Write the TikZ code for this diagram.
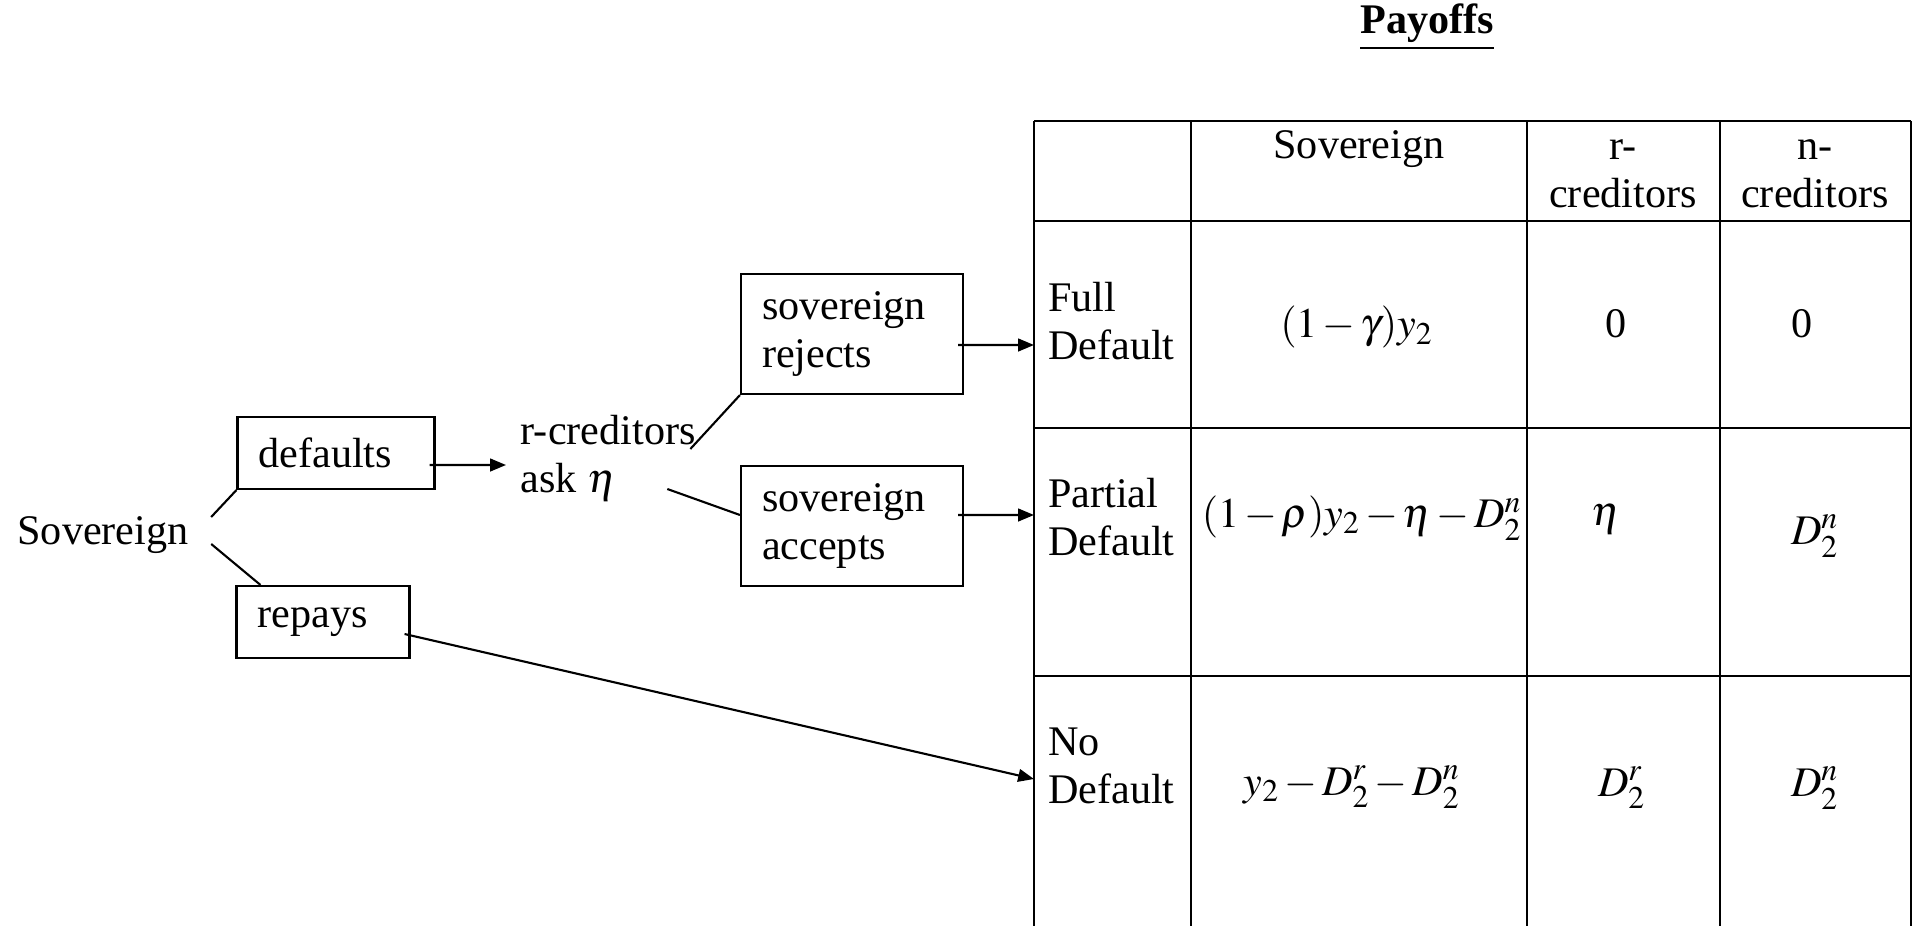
\documentclass[tikz,border=0pt,12pt]{standalone}
\usepackage{mathptmx}
\usepackage[no-math]{fontspec}
\setmainfont{Liberation Serif}
\usetikzlibrary{arrows.meta}

\tikzstyle{choice}=[draw,rectangle,line width=0.6pt,align=left,inner xsep=0.21cm,minimum height=0.72cm]
\tikzstyle{branch}=[draw,line width=0.6pt]
\tikzstyle{edge} = [draw,line width=0.6pt,-{Triangle[length=4.5pt,width=3.6pt]}]
\tikzstyle{grid}=[draw,line width=0.8pt]
\tikzstyle{cell}=[align=center,inner sep=1pt,execute at begin node={\medmuskip=2mu}]

\begin{document}
\begin{tikzpicture}[x=0.1mm,y=-0.1mm,font=\fontsize{12pt}{13.8pt}\selectfont]
     \useasboundingbox (0,0) rectangle (1918,926);

     \node (title) at (1427,27) {\underline{\textbf{Payoffs}}};

     % game tree
     \node[inner xsep=0.22cm] (sov) at (103,535) {Sovereign};
     \node[choice,text width=1.55cm] (def) at (336,453) {defaults};
     \node[choice,text width=1.31cm] (rep) at (323,622) {repays};
     \node[align=left,anchor=west] (rcred) at (506,458) {r-creditors\\ask $\eta$};
     \foreach \pos/\name/\txt in {{(852,334)/rej/rejects}, {(852,526)/acc/accepts}}
     \node[choice,text width=1.8cm,minimum height=1.2cm] (\name) at \pos {sovereign\\\txt};

     \path[branch] ([yshift=0.18cm]sov.east) -- (def.south west);
     \path[branch] ([yshift=-0.09cm]sov.east) -- ([xshift=0.25cm]rep.north west);
     \path[branch] ([xshift=-0.2cm,yshift=0.09cm]rcred.east) -- (rej.south west);
     \path[branch] ([xshift=-0.43cm,yshift=-0.31cm]rcred.east) -- ([yshift=0.11cm]acc.west);

     % payoff table
     \foreach \x in {1034,1191,1527,1720,1911}
     \path[grid] (\x,121) -- (\x,926);
     \foreach \y in {121,221,428,676}
     \path[grid] (1034,\y) -- (1911,\y);

     \coordinate (inFull) at (1034,345);
     \coordinate (inPart) at (1034,515);
     \coordinate (inNo) at (1034,779);

     \path[edge] ([xshift=-0.06cm,yshift=-0.12cm]def.east) -- ([yshift=-0.07cm]rcred.west);
     \path[edge] ([xshift=-0.06cm,yshift=-0.11cm]rej.east) -- (inFull);
     \path[edge] ([xshift=-0.06cm,yshift=0.11cm]acc.east) -- (inPart);
     \path[edge] ([xshift=-0.06cm,yshift=-0.12cm]rep.east) -- (inNo);

     \node[cell] (hsov) at (1359,149) {Sovereign};
     \node[cell] (hr) at (1623,174) {r-\\creditors};
     \node[cell] (hn) at (1815,174) {n-\\creditors};

     \foreach \pos/\name/\txt in {{(1044,321)/full/Full}, {(1044,517)/part/Partial}, {(1044,766)/none/No}}
     \node[align=left,anchor=west,inner sep=1pt] (\name) at \pos {\txt\\Default};

     \foreach \pos/\name/\val in {{(1357,327)/fs/$(1-\gamma)y_2$}, {(1616,324)/fr/0}, {(1802,324)/fn/0},
       {(1362,518)/ps/$(1-\rho)y_2-\eta-D_2^n$}, {(1606,519)/pr/$\eta$}, {(1815,536)/pn/$D_2^n$},
       {(1352,787)/ns/$y_2-D_2^r-D_2^n$}, {(1622,788)/nr/$D_2^r$}, {(1815,788)/nn/$D_2^n$}}
     \node[cell] (\name) at \pos {\val};

   \end{tikzpicture}
\end{document}
